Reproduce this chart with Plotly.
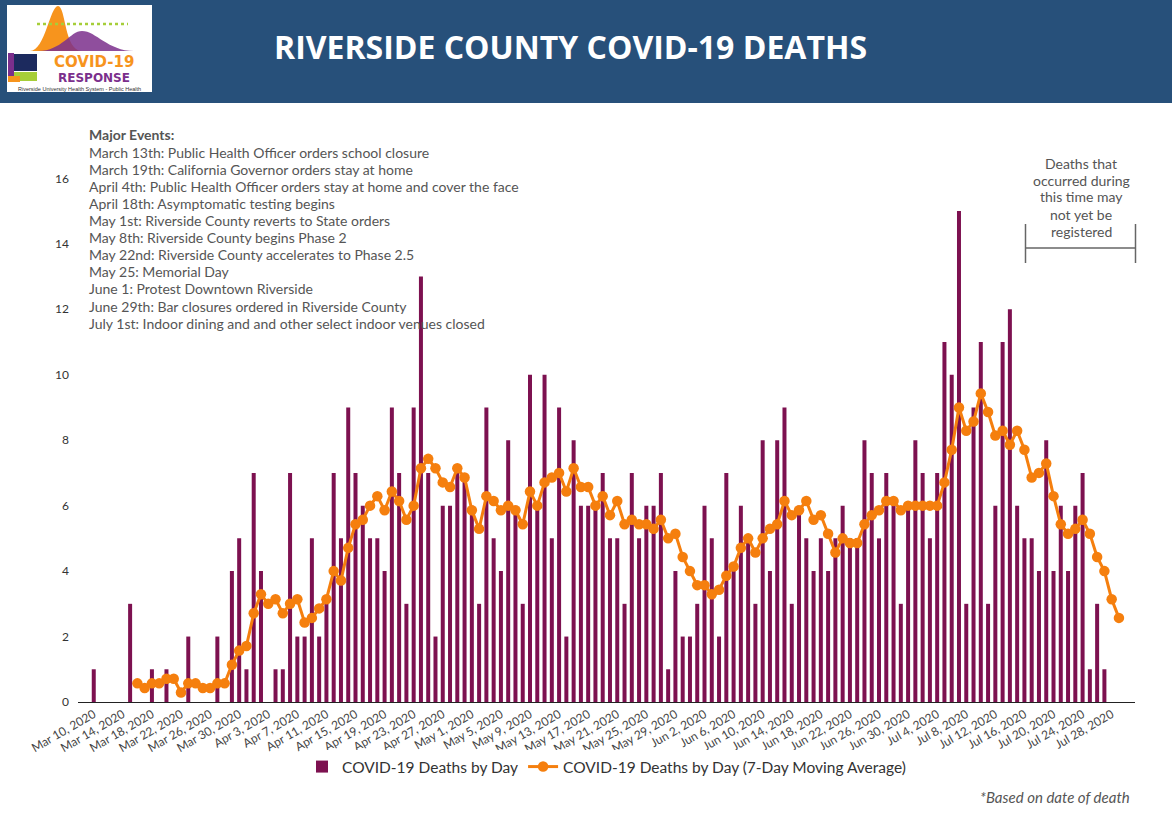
import pandas as pd
import plotly.graph_objects as go

# ---------------- data ----------------
start_date = "2020-03-10"

daily_deaths = [
    1, 0, 0, 0, 0, 3, 0, 0, 1, 0, 1, 0, 0, 2, 0, 0, 0, 2, 0, 4, 5, 1,      # Mar 10 - Mar 31
    7, 4, 0, 1, 1, 7, 2, 2, 5, 2, 3, 7, 5, 9, 7, 6, 5, 5, 4, 9, 7, 3, 9,   # Apr 1 - Apr 23
    13, 7, 2, 6, 6, 7, 7,                                                  # Apr 24 - Apr 30
    6, 3, 9, 5, 4, 8, 6, 3, 10, 6, 10, 5, 9, 2, 8, 6, 6, 6, 7, 5, 5, 3,    # May 1 - May 22
    7, 5, 6, 6, 7, 1, 4, 2, 2,                                             # May 23 - May 31
    3, 6, 5, 2, 7, 4, 6, 5, 3, 8, 4, 8, 9, 3, 6, 5, 4, 5, 4, 5, 6, 5,      # Jun 1 - Jun 22
    5, 8, 7, 5, 7, 6, 3, 6,                                                # Jun 23 - Jun 30
    8, 7, 5, 7, 11, 10, 15, 3, 9, 11, 3, 6, 11, 12, 6, 5, 5, 4, 8, 4,      # Jul 1 - Jul 20
    6, 4, 6, 7, 1, 3, 1, 0, 0,                                             # Jul 21 - Jul 29
]

moving_avg = [
    None, None, None, None, None, None,
    0.57, 0.43, 0.57, 0.57, 0.71, 0.71, 0.29, 0.57, 0.57, 0.43, 0.43, 0.57, 0.57,
    1.14, 1.57, 1.71,
    2.71, 3.29, 3.00, 3.14, 2.71, 3.00, 3.14, 2.43, 2.57, 2.86, 3.14, 4.00, 3.71,
    4.71, 5.43, 5.57, 6.00, 6.29, 5.86, 6.43, 6.14, 5.57, 6.00, 7.14, 7.43, 7.14,
    6.71, 6.57, 7.14, 6.86,
    5.86, 5.29, 6.29, 6.14, 5.86, 6.00, 5.86, 5.43, 6.43, 6.00, 6.71, 6.86, 7.00,
    6.43, 7.14, 6.57, 6.57, 6.00, 6.29, 5.71, 6.14, 5.43, 5.57, 5.43, 5.43, 5.29,
    5.57, 5.00, 5.14, 4.43, 4.00,
    3.57, 3.57, 3.29, 3.43, 3.86, 4.14, 4.71, 5.00, 4.57, 5.00, 5.29, 5.43, 6.14,
    5.71, 5.86, 6.14, 5.57, 5.71, 5.14, 4.57, 5.00, 4.86, 4.86, 5.43, 5.71, 5.86,
    6.14, 6.14, 5.86, 6.00,
    6.00, 6.00, 6.00, 6.00, 6.71, 7.71, 9.00, 8.29, 8.57, 9.43, 8.86, 8.14, 8.29,
    7.86, 8.29, 7.71, 6.86, 7.00, 7.29, 6.29, 5.43, 5.14, 5.29, 5.57, 5.14, 4.43,
    4.00, 3.14, 2.57,
]

y_ticks = [0, 2, 4, 6, 8, 10, 12, 14, 16]

events_title = "Major Events:"
events = [
    "March 13th: Public Health Officer orders school closure",
    "March 19th: California Governor orders stay at home",
    "April 4th: Public Health Officer orders stay at home and cover the face",
    "April 18th: Asymptomatic testing begins",
    "May 1st: Riverside County reverts to State orders",
    "May 8th: Riverside County begins Phase 2",
    "May 22nd: Riverside County accelerates to Phase 2.5",
    "May 25: Memorial Day",
    "June 1: Protest Downtown Riverside",
    "June 29th: Bar closures ordered in Riverside County",
    "July 1st: Indoor dining and and other select indoor venues closed",
]

note_lines = ["Deaths that", "occurred during", "this time may", "not yet be", "registered"]

dates = pd.date_range(start_date, periods=len(daily_deaths), freq="D")

# ---------------- layout geometry ----------------
W, H = 1172, 818
ML, MR, MT, MB = 78, 37, 162, 116
PW, PH = W - ML - MR, H - MT - MB


def px2x(px):
    return (px - ML) / PW


def px2y(py):
    return (H - MB - py) / PH


BAR_COLOR = "#7d1150"
LINE_COLOR = "#f57f0e"
TEXT_GREY = "#555555"

fig = go.Figure()
fig.add_trace(go.Bar(
    x=dates, y=daily_deaths, name="COVID-19 Deaths by Day",
    marker=dict(color=BAR_COLOR, line=dict(width=0)),
))
fig.add_trace(go.Scatter(
    x=dates, y=moving_avg, name="COVID-19 Deaths by Day (7-Day Moving Average)",
    mode="lines+markers",
    line=dict(color=LINE_COLOR, width=3),
    marker=dict(color=LINE_COLOR, size=10.5),
    connectgaps=False,
))

shapes = []
annotations = []


def text_at(px, py, text, size, color, family="Lato", xanchor="center", align="center", pad=1):
    annotations.append(dict(xref="paper", yref="paper", x=px2x(px), y=px2y(py),
                            xanchor=xanchor, yanchor="middle", align=align,
                            text=text, showarrow=False, borderpad=pad,
                            font=dict(family=family, size=size, color=color)))


# header band
shapes.append(dict(type="rect", xref="paper", yref="paper",
                   x0=px2x(-10), x1=px2x(W + 10), y0=px2y(103), y1=px2y(-10),
                   fillcolor="#27507a", line=dict(width=0), layer="above"))
# logo box
shapes.append(dict(type="rect", xref="paper", yref="paper",
                   x0=px2x(7), x1=px2x(152), y0=px2y(92), y1=px2y(5),
                   fillcolor="white", line=dict(width=0), layer="above"))


def path(points):
    s = ""
    for cmd, pts in points:
        s += cmd + " " + " ".join(f"{px2x(a):.5f},{px2y(b):.5f}" for a, b in pts) + " "
    return s + "Z"


# orange curve
shapes.append(dict(type="path", xref="paper", yref="paper", layer="above",
                   path=path([("M", [(30, 51)]),
                              ("C", [(45, 51), (50, 6), (58, 6)]),
                              ("C", [(66, 6), (64, 51), (82, 51)])]),
                   fillcolor="#f7941d", line=dict(width=0)))
# purple curve
shapes.append(dict(type="path", xref="paper", yref="paper", layer="above",
                   path=path([("M", [(38, 51)]),
                              ("C", [(62, 51), (70, 31), (82, 31)]),
                              ("C", [(96, 31), (108, 51), (134, 51)])]),
                   fillcolor="#7b2f8c", opacity=0.85, line=dict(width=0)))
# green dotted line
shapes.append(dict(type="line", xref="paper", yref="paper", layer="above",
                   x0=px2x(37), x1=px2x(128), y0=px2y(24), y1=px2y(24),
                   line=dict(color="#a6ce39", width=2.5, dash="dot")))
# small icon
shapes.append(dict(type="rect", xref="paper", yref="paper", layer="above",
                   x0=px2x(8), x1=px2x(14), y0=px2y(81), y1=px2y(53),
                   fillcolor="#7b2f8c", line=dict(width=0)))
shapes.append(dict(type="rect", xref="paper", yref="paper", layer="above",
                   x0=px2x(14), x1=px2x(37), y0=px2y(71), y1=px2y(54),
                   fillcolor="#1c2a5e", line=dict(width=0)))
shapes.append(dict(type="rect", xref="paper", yref="paper", layer="above",
                   x0=px2x(14), x1=px2x(37), y0=px2y(81), y1=px2y(72),
                   fillcolor="#a6ce39", line=dict(width=0)))
shapes.append(dict(type="rect", xref="paper", yref="paper", layer="above",
                   x0=px2x(8), x1=px2x(20), y0=px2y(82), y1=px2y(76),
                   fillcolor="#f7941d", line=dict(width=0)))

# logo wordmark + tagline
text_at(94, 61.5, "<b>COVID-19</b>", 15, "#f7941d", family="DejaVu Sans", pad=0)
text_at(94, 78, "<b>RESPONSE</b>", 12, "#7b2f8c", family="DejaVu Sans", pad=0)
text_at(79, 89.5, "Riverside University Health System - Public Health", 5.5, "#333333",
        family="Liberation Sans", pad=0)

# title
text_at(570, 47, "<b>RIVERSIDE COUNTY COVID-19 DEATHS</b>", 32, "white", family="Open Sans")

# major events (one annotation per line to keep the reference line spacing)
text_at(87, 135, "<b>" + events_title + "</b>", 14, TEXT_GREY, xanchor="left", align="left")
for i, line in enumerate(events):
    text_at(87, 152.1 + 17.1 * i, line, 14, TEXT_GREY, xanchor="left", align="left")

# "not yet registered" note and bracket
for i, line in enumerate(note_lines):
    text_at(1081, 163 + 17 * i, line, 14, TEXT_GREY)
for bx in (1025.5, 1135.5):
    shapes.append(dict(type="line", xref="paper", yref="paper", layer="above",
                       x0=px2x(bx), x1=px2x(bx), y0=px2y(263), y1=px2y(224),
                       line=dict(color="#666666", width=1.5)))
shapes.append(dict(type="line", xref="paper", yref="paper", layer="above",
                   x0=px2x(1025.5), x1=px2x(1135.5), y0=px2y(248), y1=px2y(248),
                   line=dict(color="#666666", width=1.5)))

# footnote
text_at(1132, 797, "<i>*Based on date of death</i>", 15, TEXT_GREY, xanchor="right")

fig.update_layout(
    width=W, height=H,
    margin=dict(l=ML, r=MR, t=MT, b=MB, autoexpand=False),
    paper_bgcolor="white", plot_bgcolor="white",
    font=dict(family="Lato", color="#333333"),
    bargap=0.45,
    showlegend=True,
    legend=dict(orientation="h", x=0.5, xanchor="center", y=px2y(767), yanchor="middle",
                font=dict(family="Lato", size=15.5, color="#333333"),
                itemwidth=30),
    shapes=shapes,
    annotations=annotations,
    xaxis=dict(
        type="date",
        range=["2020-03-07 20:00", "2020-07-31 05:00"],
        tick0=start_date, dtick=4 * 86400000,
        tickformat="%b %-d, %Y", tickangle=-30,
        tickfont=dict(family="Lato", size=12, color="#444444"),
        showgrid=False, zeroline=False,
        showline=True, linecolor="#222222", linewidth=1,
        ticks="",
    ),
    yaxis=dict(
        range=[0, 16.5], tickvals=y_ticks,
        tickfont=dict(family="Lato", size=12, color="#333333"),
        showgrid=False, zeroline=False, showline=False, ticks="",
        ticklabelstandoff=8,
    ),
)

fig.write_html(
    "out.html",
    config={"displayModeBar": False},
    post_script="document.body.style.margin='0';document.body.style.overflow='hidden';",
)
